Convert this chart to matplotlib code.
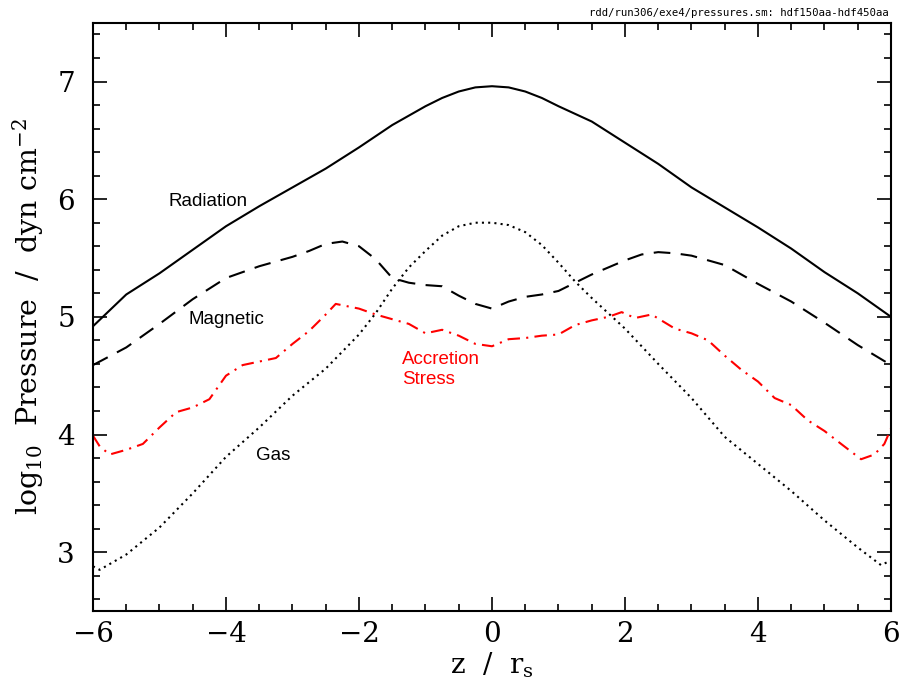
import matplotlib
matplotlib.use("Agg")
import matplotlib.pyplot as plt
from matplotlib.ticker import MultipleLocator

plt.rcParams['font.family'] = 'DejaVu Serif'
plt.rcParams['mathtext.fontset'] = 'dejavuserif'

# data
rad_z = [-6, -5.5, -5, -4.5, -4, -3.5, -3, -2.5, -2, -1.5, -1, -0.75, -0.5, -0.25, 0,
         0.25, 0.5, 0.75, 1, 1.5, 2, 2.5, 3, 3.5, 4, 4.5, 5, 5.5, 6]
rad_p = [4.92, 5.19, 5.37, 5.57, 5.77, 5.94, 6.10, 6.26, 6.44, 6.63, 6.79, 6.86, 6.915, 6.95, 6.96,
         6.95, 6.915, 6.86, 6.79, 6.66, 6.48, 6.30, 6.10, 5.93, 5.76, 5.58, 5.38, 5.20, 5.00]

mag_z = [-6, -5.5, -5, -4.5, -4, -3.5, -3, -2.75, -2.5, -2.25, -2, -1.75, -1.5,
         -1.25, -1, -0.75, -0.5, -0.25, 0, 0.25, 0.5, 0.75, 1, 1.25, 1.5, 1.75,
         2, 2.25, 2.5, 2.75, 3, 3.5, 4, 4.5, 5, 5.5, 6]
mag_p = [4.59, 4.74, 4.94, 5.15, 5.33, 5.43, 5.51, 5.56, 5.62, 5.64, 5.60, 5.49, 5.33,
         5.29, 5.27, 5.26, 5.18, 5.11, 5.07, 5.13, 5.17, 5.19, 5.22, 5.29, 5.36, 5.42,
         5.48, 5.53, 5.55, 5.54, 5.52, 5.44, 5.28, 5.13, 4.95, 4.76, 4.59]

acc_z = [-6, -5.9, -5.75, -5.5, -5.25, -5, -4.75, -4.5, -4.25, -4, -3.75, -3.5,
         -3.25, -3, -2.75, -2.5, -2.35, -2, -1.75, -1.5, -1.25, -1, -0.75, -0.5,
         -0.25, 0, 0.25, 0.5, 0.75, 1, 1.25, 1.5, 1.75, 1.95, 2.15, 2.4, 2.75,
         3, 3.25, 3.5, 3.75, 4, 4.25, 4.5, 4.75, 5, 5.25, 5.55, 5.75, 5.9, 6]
acc_p = [3.99, 3.90, 3.83, 3.87, 3.92, 4.06, 4.19, 4.23, 4.30, 4.50, 4.59, 4.62,
         4.65, 4.77, 4.88, 5.02, 5.11, 5.07, 5.02, 4.98, 4.94, 4.86, 4.89, 4.84,
         4.77, 4.75, 4.81, 4.82, 4.84, 4.85, 4.93, 4.97, 5.00, 5.04, 4.99, 5.02, 4.90,
         4.86, 4.80, 4.67, 4.55, 4.45, 4.31, 4.25, 4.12, 4.03, 3.92, 3.79, 3.83, 3.92, 4.05]

gas_z = [-6, -5.9, -5.5, -5, -4.5, -4, -3.5, -3, -2.5, -2, -1.75, -1.5, -1.25,
         -1, -0.75, -0.5, -0.25, 0, 0.25, 0.5, 0.75, 1, 1.25, 1.5, 1.75, 2,
         2.5, 3, 3.5, 4, 4.5, 5, 5.5, 5.85, 6]
gas_p = [2.88, 2.85, 2.98, 3.21, 3.50, 3.81, 4.06, 4.33, 4.56, 4.85, 5.03, 5.24, 5.42,
         5.56, 5.69, 5.77, 5.80, 5.80, 5.78, 5.72, 5.61, 5.46, 5.30, 5.16, 5.03, 4.90,
         4.60, 4.31, 3.98, 3.75, 3.52, 3.27, 3.04, 2.89, 2.93]

fig = plt.figure(figsize=(9.02, 6.87), dpi=100)
ax = fig.add_axes([0.1031, 0.1106, 0.8847, 0.8564])

ax.plot(rad_z, rad_p, color='black', lw=1.5, ls='-')
ax.plot(mag_z, mag_p, color='black', lw=1.5, ls=(0, (8, 5)))
ax.plot(gas_z, gas_p, color='black', lw=1.5, ls=(0, (1, 2)))
ax.plot(acc_z, acc_p, color='red', lw=1.5, ls=(0, (6, 3, 1, 3)))

lab = dict(family='Liberation Sans', fontsize=13.5)
ax.text(-4.27, 5.98, 'Radiation', ha='center', va='center', **lab)
ax.text(-3.99, 4.98, 'Magnetic', ha='center', va='center', **lab)
ax.text(-3.29, 3.82, 'Gas', ha='center', va='center', **lab)
ax.text(-1.35, 4.55, 'Accretion\nStress', ha='left', va='center', color='red',
        linespacing=1.2, **lab)

ax.set_xlim(-6, 6)
ax.set_ylim(2.5, 7.5)
ax.xaxis.set_major_locator(MultipleLocator(2))
ax.xaxis.set_minor_locator(MultipleLocator(0.5))
ax.yaxis.set_major_locator(MultipleLocator(1))
ax.yaxis.set_minor_locator(MultipleLocator(0.2))
ax.tick_params(which='both', direction='in', top=True, right=True, width=1.2)
ax.tick_params(which='major', length=10, labelsize=20)
ax.tick_params(axis='x', which='major', pad=7)
ax.tick_params(axis='y', which='major', pad=13)
ax.tick_params(which='minor', length=5)
for s in ax.spines.values():
    s.set_linewidth(1.5)

ax.set_xlabel('z  /  r$_{\\rm s}$', fontsize=20, labelpad=2)
ax.set_ylabel('log$_{10}$  Pressure  /  dyn cm$^{-2}$', fontsize=20.5, labelpad=8)

fig.text(0.985, 0.988, 'rdd/run306/exe4/pressures.sm: hdf150aa-hdf450aa',
         family='DejaVu Sans Mono', fontsize=7.7, ha='right', va='top')

fig.savefig('out.png', dpi=100)
